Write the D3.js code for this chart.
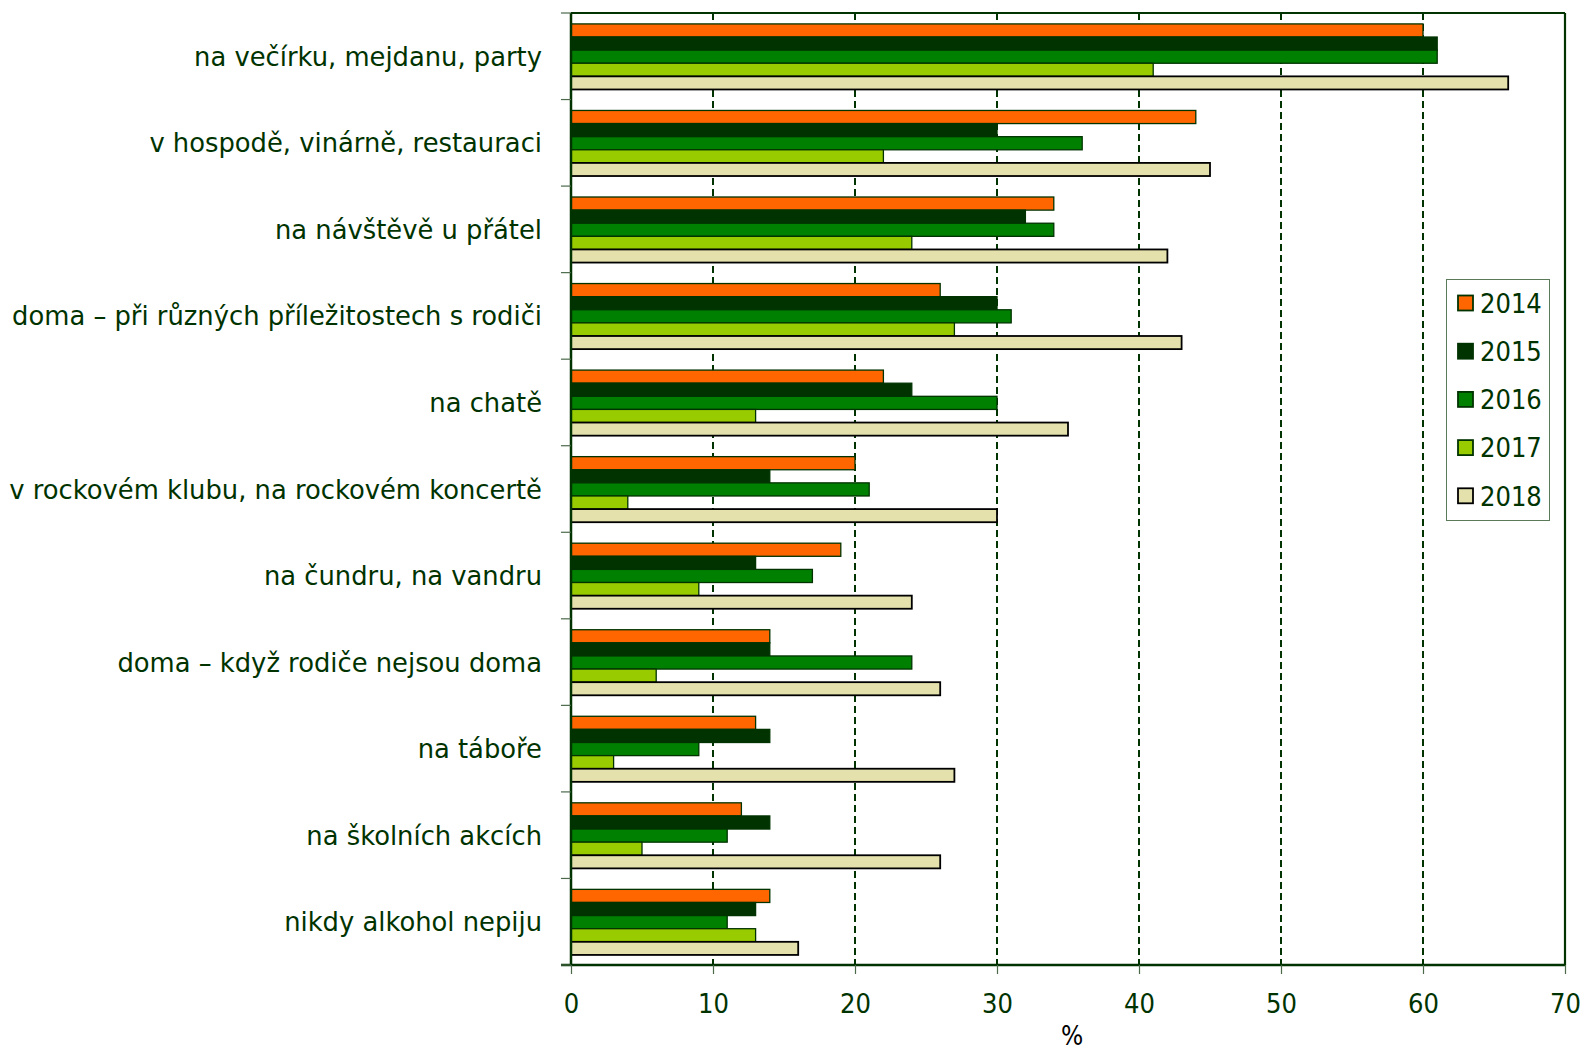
<!DOCTYPE html>
<html><head><meta charset="utf-8">
<script src="https://cdn.jsdelivr.net/npm/d3@7"></script>
<style>body{margin:0;background:#fff;} svg{display:block;}</style>
</head><body>
<svg id="c" width="1585" height="1054"></svg>
<script>
const categories = [
  "na večírku, mejdanu, party",
  "v hospodě, vinárně, restauraci",
  "na návštěvě u přátel",
  "doma – při různých příležitostech s rodiči",
  "na chatě",
  "v rockovém klubu, na rockovém koncertě",
  "na čundru, na vandru",
  "doma – když rodiče nejsou doma",
  "na táboře",
  "na školních akcích",
  "nikdy alkohol nepiju"
];
const years = ["2014","2015","2016","2017","2018"];
const v2014 = [60,44,34,26,22,20,19,14,13,12,14];
const v2015 = [61,30,32,30,24,14,13,14,14,14,13];
const v2016 = [61,36,34,31,30,21,17,24,9,11,11];
const v2017 = [41,22,24,27,13,4,9,6,3,5,13];
const v2018 = [66,45,42,43,35,30,24,26,27,26,16];
const xTicks = [0,10,20,30,40,50,60,70];
const xTitle = "%";

const series = [v2014,v2015,v2016,v2017,v2018];
const fills = ["#FF6600","#003300","#008000","#99CC00","#E4E1AC"];
const strokes = ["#003300","#003300","#003300","#003300","#000000"];
const dark = "#003300";
const fontC = "'DejaVu Sans Condensed','DejaVu Sans',sans-serif";
const fontR = "'DejaVu Sans',sans-serif";

const svg = d3.select("#c");
const L = 571, R = 1565, T = 13, B = 965;
const x = d3.scaleLinear().domain([0,70]).range([L,R]);
const y = d3.scaleBand().domain(categories).range([T,B]).padding(0);
const yi = d3.scaleBand().domain(years).range([0,y.bandwidth()]).paddingInner(0).paddingOuter(0.8).align(0.52);

// gridlines
svg.append("g").selectAll("line").data(xTicks.filter(t=>t>0 && t<70)).join("line")
  .attr("x1",d=>x(d)).attr("x2",d=>x(d)).attr("y1",T).attr("y2",B)
  .attr("stroke",dark).attr("stroke-width",2).attr("stroke-dasharray","7,4");

// bars
const rows = [];
categories.forEach((c,i)=>years.forEach((yr,j)=>rows.push({c,yr,j,v:series[j][i]})));
svg.append("g").selectAll("rect").data(rows).join("rect")
  .attr("x",x(0)).attr("y",d=>y(d.c)+yi(d.yr))
  .attr("width",d=>x(d.v)-x(0)).attr("height",yi.bandwidth())
  .attr("fill",d=>fills[d.j]).attr("stroke",d=>strokes[d.j])
  .attr("stroke-width",d=>d.j===4?1.8:1.3);

// frame top/right
svg.append("line").attr("x1",L).attr("x2",R).attr("y1",T).attr("y2",T).attr("stroke",dark).attr("stroke-width",2.2);
svg.append("line").attr("x1",R).attr("x2",R).attr("y1",T).attr("y2",B).attr("stroke",dark).attr("stroke-width",2.2);

// x axis
const xa = svg.append("g").attr("transform",`translate(0,${B})`)
  .call(d3.axisBottom(x).tickValues(xTicks).tickSize(9).tickPadding(20).tickFormat(d3.format("d")));
xa.select(".domain").attr("stroke",dark).attr("stroke-width",2.5).attr("d",`M${L-10},0H${R}`);
xa.selectAll(".tick line").attr("stroke","#4a6a4a").attr("stroke-width",1.2);
xa.selectAll("text").attr("fill",dark).style("font-family",fontC).style("font-size","27px");

// y axis
const ya = svg.append("g").attr("transform",`translate(${L},0)`)
  .call(d3.axisLeft(y).tickSize(0).tickPadding(29));
ya.select(".domain").attr("stroke",dark).attr("stroke-width",2.5).attr("d",`M0,${T}V${B}`);
ya.selectAll(".tick line").remove();
ya.selectAll("text").attr("fill",dark).attr("dy","0.37em").style("font-family",fontR).style("font-size","25.8px");
// category boundary ticks
svg.append("g").selectAll("line").data(d3.range(categories.length+1)).join("line")
  .attr("x1",L-10).attr("x2",L).attr("y1",i=>T+i*y.step()).attr("y2",i=>T+i*y.step())
  .attr("stroke","#4a6a4a").attr("stroke-width",1.2);

// x title
svg.append("text").attr("x",1072).attr("y",1045).attr("text-anchor","middle")
  .style("font-family",fontC).style("font-size","26px").attr("fill","#000").text(xTitle);

// legend
const lg = svg.append("g");
lg.append("rect").attr("x",1446.5).attr("y",279.5).attr("width",103).attr("height",241)
  .attr("fill","#fff").attr("stroke","#5a7a5a").attr("stroke-width",1);
years.forEach((yr,j)=>{
  const cy = 303 + j*48.2;
  lg.append("rect").attr("x",1458).attr("y",cy-7.5).attr("width",15).attr("height",15)
    .attr("fill",fills[j]).attr("stroke",strokes[j]).attr("stroke-width",1.8);
  lg.append("text").attr("x",1480).attr("y",cy).attr("dy","0.36em")
    .style("font-family",fontC).style("font-size","27px").attr("fill",dark).text(yr);
});
</script>
</body></html>
